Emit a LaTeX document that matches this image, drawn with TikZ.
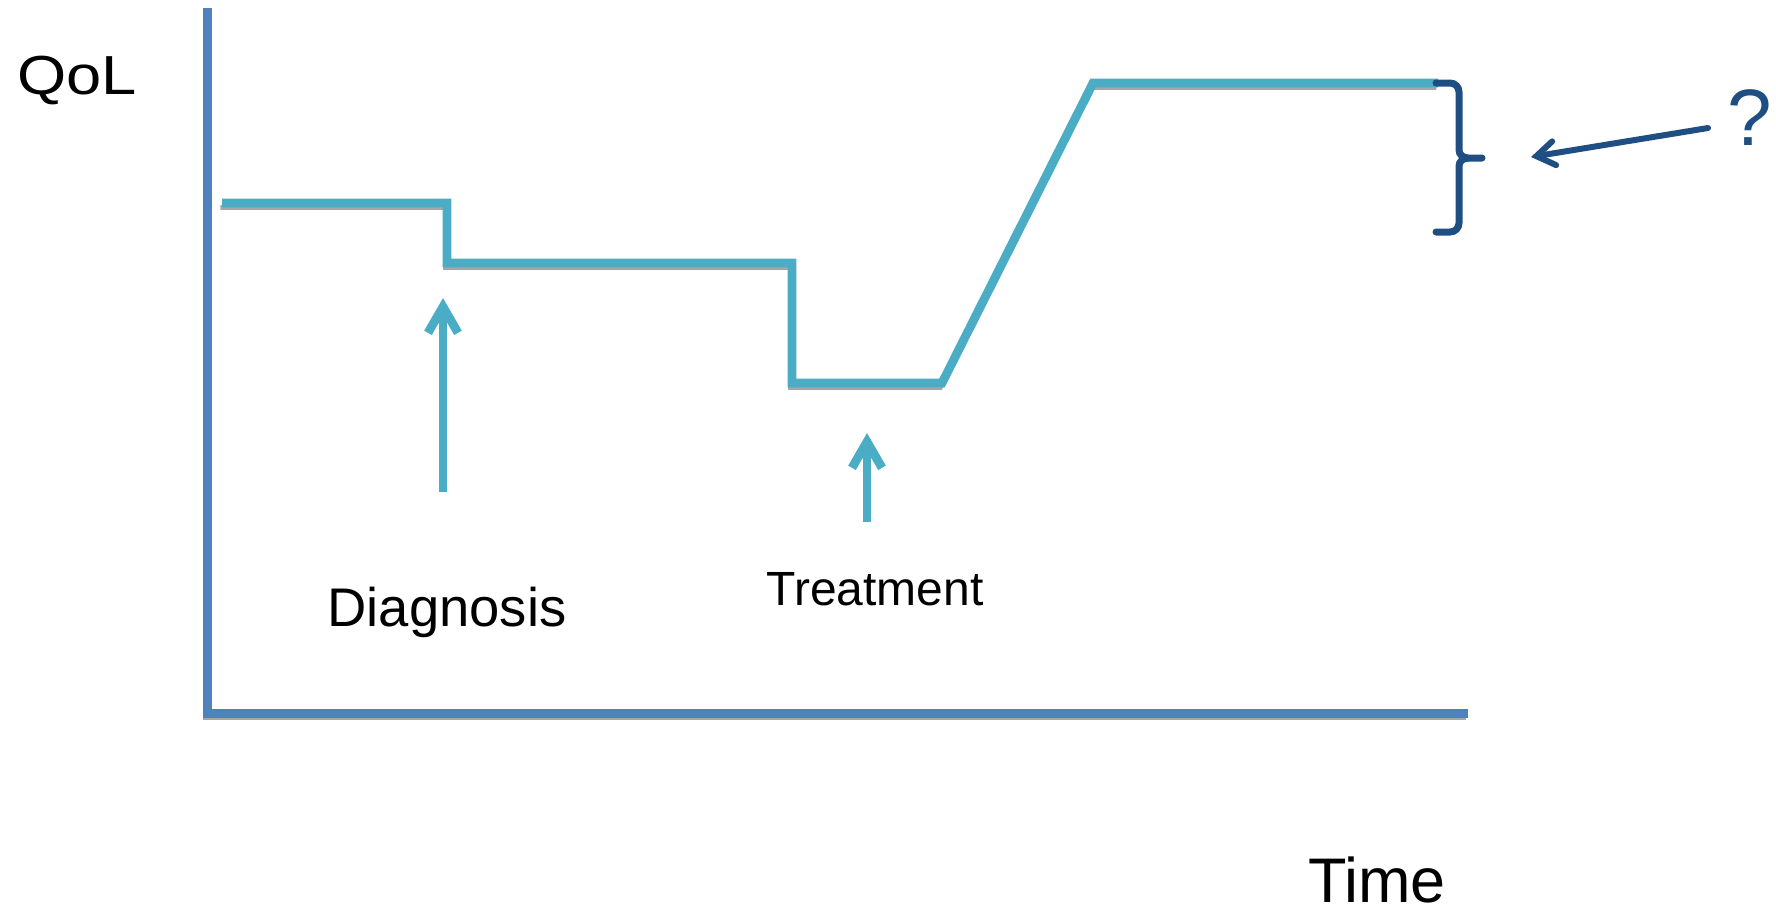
\documentclass[tikz,border=0pt]{standalone}
\usepackage{fontspec}
\setmainfont{Liberation Sans}
\usetikzlibrary{arrows.meta}
\definecolor{curveblue}{HTML}{4BACC6}
\definecolor{axisblue}{HTML}{4F81BD}
\definecolor{braceblue}{HTML}{1F4E82}
\definecolor{shadowgray}{HTML}{A6A6A6}

\begin{document}
\begin{tikzpicture}[
  x=.5pt,y=-.5pt,
  shadowed/.style={preaction={draw=shadowgray,line width=2.4pt,
      transform canvas={shift={(-.8pt,-2.2pt)}}}},
  axisline/.style={axisblue,line width=4.5pt,shadowed},
  qolcurve/.style={curveblue,line width=4.4pt,line join=miter,shadowed},
  eventarrow/.style={curveblue,line width=4.4pt,
      -{Straight Barb[length=13pt,width=15pt,line cap=butt]}},
  bracepath/.style={braceblue,line width=3.5pt,line cap=round},
  pointer/.style={braceblue,line width=3pt,line cap=round,
      -{Straight Barb[length=9pt,width=12pt,line cap=round]}},
  label/.style={anchor=base,inner sep=0pt,text=black}
]
\useasboundingbox (0,0) rectangle (1776,912);
% axes
\coordinate (ytop) at (207,8);
\coordinate (origin) at (207,713);
\coordinate (xend) at (1468,713);
\draw[axisline] (ytop) -- (origin) -- (xend);
% quality of life over time
\foreach \name/\px/\py in {q1/222/203,q2/447/203,q3/447/263,q4/792/263,
    q5/792/383,q6/942/383,q7/1093/83,q8/1438/83}
  \coordinate (\name) at (\px,\py);
\draw[qolcurve] (q1) -- (q2) -- (q3) -- (q4) -- (q5) -- (q6) -- (q7) -- (q8);
% events
\coordinate (diagfoot) at (443,492);
\coordinate (diagtip) at (443,298);
\draw[eventarrow] (diagfoot) -- (diagtip);
\coordinate (treatfoot) at (867,522);
\coordinate (treattip) at (867,433);
\draw[eventarrow] (treatfoot) -- (treattip);
\node[label,font=\fontsize{27.2pt}{32pt}\selectfont] (diagnosis) at (447,626) {Diagnosis};
\node[label,font=\fontsize{24pt}{29pt}\selectfont] (treatment) at (875,605) {Treatment};
% axis labels
\node[label,font=\fontsize{27.5pt}{32pt}\selectfont] (qol) at (77,94) {\scalebox{1.15}[1]{QoL}};
\node[label,font=\fontsize{31.5pt}{37pt}\selectfont] (time) at (1377,902) {Time};
% uncertain outcome
\draw[bracepath] (1436,83) -- (1450,83) to[out=0,in=90] (1459,92) -- (1459,150)
  to[out=-90,in=180] (1468,158) -- (1482,158);
\draw[bracepath] (1468,158) to[out=180,in=90] (1459,166) -- (1459,223)
  to[out=-90,in=0] (1450,232) -- (1436,232);
\node[label,text=braceblue,font=\fontsize{40pt}{46pt}\selectfont] (qmark) at (1750,145) {?};
\coordinate (askfrom) at (1708,128);
\coordinate (askto) at (1531,157);
\draw[pointer] (askfrom) -- (askto);
\end{tikzpicture}
\end{document}
